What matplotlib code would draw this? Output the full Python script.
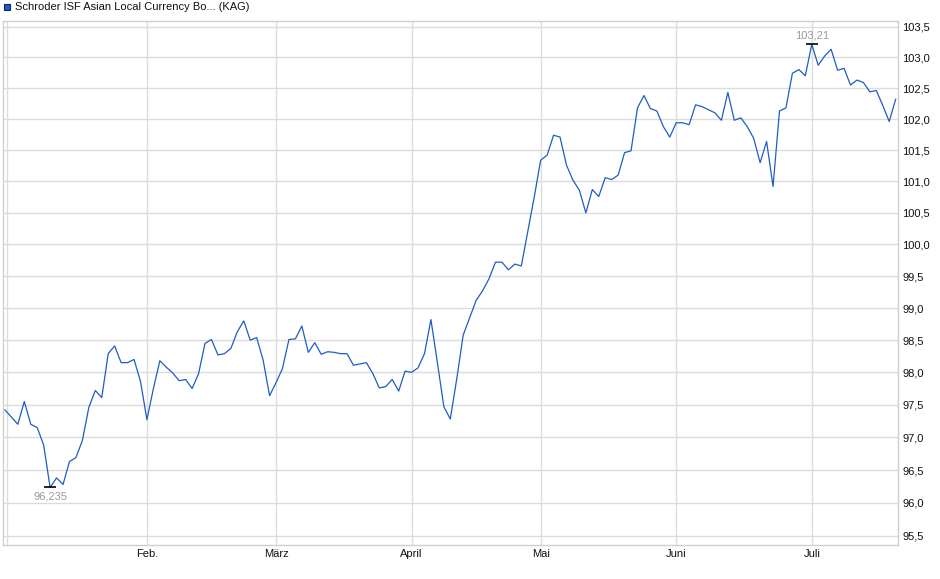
import numpy as np
import matplotlib
matplotlib.use('Agg')
import matplotlib.pyplot as plt
from matplotlib.ticker import FixedLocator, FixedFormatter, NullLocator

plt.rcParams['font.family'] = ['Liberation Sans', 'DejaVu Sans']

# daily prices (one per trading day)
prices = [97.42, 97.31, 97.20, 97.55, 97.20, 97.15, 96.88, 96.235, 96.38, 96.28,
          96.63, 96.69, 96.95, 97.46, 97.72, 97.61, 98.29, 98.41, 98.15, 98.15,
          98.20, 97.86, 97.27,
          97.75, 98.18, 98.08, 97.99, 97.87, 97.89, 97.75, 97.98, 98.45, 98.51,
          98.27, 98.29, 98.37, 98.63, 98.80, 98.50, 98.54, 98.19, 97.64, 97.84,
          98.06, 98.51, 98.52,
          98.72, 98.31, 98.46, 98.28, 98.32, 98.31, 98.29, 98.29, 98.11, 98.13,
          98.15, 97.98, 97.76, 97.78, 97.89, 97.71, 98.02, 98.00, 98.07, 98.29,
          98.82, 98.15, 97.47, 97.28, 97.90, 98.58, 98.85,
          99.12, 99.27, 99.46, 99.72, 99.72, 99.60, 99.69, 99.66, 100.20, 100.75,
          101.34, 101.42, 101.74, 101.71, 101.26, 101.02, 100.86, 100.50, 100.87, 100.76,
          101.06, 101.03, 101.10, 101.46, 101.49, 102.18, 102.38, 102.17, 102.13, 101.88,
          101.71, 101.94, 101.94, 101.91, 102.23, 102.20, 102.15, 102.10, 101.98, 102.43,
          101.98, 102.02, 101.88, 101.69, 101.30, 101.64, 100.92, 102.13,
          102.18, 102.74, 102.80, 102.70, 103.21, 102.87, 103.02, 103.13, 102.79, 102.82,
          102.55, 102.63, 102.59, 102.44, 102.46, 102.22, 101.96, 102.32]

month_idx = [22, 42, 63, 83, 104, 125]
month_labels = ['Feb.', 'März', 'April', 'Mai', 'Juni', 'Juli']
y_ticks = [95.5, 96.0, 96.5, 97.0, 97.5, 98.0, 98.5, 99.0, 99.5, 100.0,
           100.5, 101.0, 101.5, 102.0, 102.5, 103.0, 103.5]
title = 'Schroder ISF Asian Local Currency Bo... (KAG)'

W, H = 940, 579
fig = plt.figure(figsize=(W/100, H/100), dpi=100)
ax = fig.add_axes([3/W, (H-545)/H, (898-3)/W, (545-20.5)/H])

x = np.arange(len(prices))
ax.plot(x, prices, color='#1f5cc4', lw=0.9, zorder=3)

ax.set_yscale('log')
ax.set_ylim(95.364, 103.6)
ax.set_xlim(-0.3, 138.36)

ax.yaxis.set_major_locator(FixedLocator(y_ticks))
ax.yaxis.set_major_formatter(FixedFormatter([f'{v:.1f}'.replace('.', ',') for v in y_ticks]))
ax.yaxis.set_minor_locator(NullLocator())
ax.yaxis.tick_right()
ax.set_xticks(month_idx)
ax.set_xticklabels(month_labels)
ax.xaxis.set_minor_locator(NullLocator())
ax.tick_params(axis='both', length=0, labelsize=8, colors='#111111')
ax.tick_params(axis='y', pad=3)
ax.tick_params(axis='x', pad=3)

ax.grid(True, color='#dcdcdc', lw=1)
ax.axvline(0.35, color='#dcdcdc', lw=1)
for s in ax.spines.values():
    s.set_color('#cfcfcf')
    s.set_linewidth(1)

# min / max markers
i_min = int(np.argmin(prices))
i_max = int(np.argmax(prices))
for i, dy, va in [(i_min, -4, 'top'), (i_max, 4, 'bottom')]:
    ax.plot([i], [prices[i]], marker='_', ms=8, mew=1.2, color='black', zorder=4)
    lab = f'{prices[i]:g}'.replace('.', ',')
    ax.annotate(lab, (i, prices[i]), xytext=(0, dy), textcoords='offset pixels',
                ha='center', va=va, fontsize=8, color='#9a9a9a', zorder=5)

# legend box
fig.patches.append(plt.Rectangle((4/W, 1-10/H), 6/W, 6/H, transform=fig.transFigure,
                                 facecolor='#1f5cc4', edgecolor='#0a2a66', lw=0.8))
fig.text(15/W, 1-7/H, title, fontsize=8, va='center', ha='left', color='#111111')

fig.savefig('out.png', dpi=100)
